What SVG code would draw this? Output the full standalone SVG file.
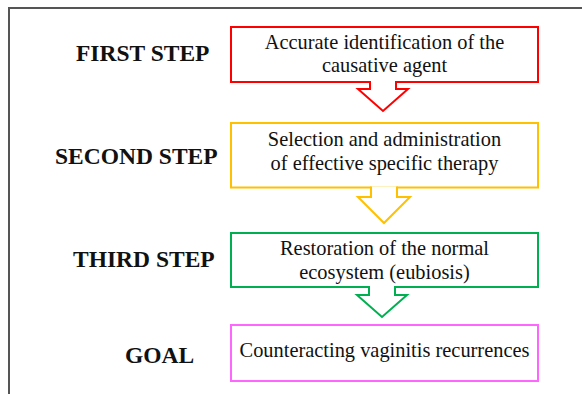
<svg xmlns="http://www.w3.org/2000/svg" width="582" height="394" viewBox="0 0 582 394">
<style>
.frame{fill:none;stroke:#555;stroke-width:2}
.box{fill:#fff;stroke-width:2}
.lbl{font-family:"Liberation Serif","Times New Roman",serif;font-weight:bold;font-size:23.5px;fill:#111}
.txt{font-family:"Liberation Serif","Times New Roman",serif;font-size:20.4px;fill:#111;text-anchor:middle}
.arr{fill:#fff;stroke-width:2;stroke-linejoin:miter}
</style>
<rect width="582" height="394" fill="#fff"/>
<path class="frame" d="M9,394 V8 H582"/>
<g id="step1">
<text class="lbl" x="76" y="61">FIRST STEP</text>
<rect class="box" x="231" y="27" width="307" height="55" stroke="#ff0000"/>
<text class="txt" x="384.5" y="49">Accurate identification of the</text>
<text class="txt" x="384.5" y="72">causative agent</text>
</g>
<g id="step2">
<text class="lbl" x="55" y="164.3">SECOND STEP</text>
<rect class="box" x="231" y="123" width="307" height="64.5" stroke="#ffc000"/>
<text class="txt" x="384.5" y="146">Selection and administration</text>
<text class="txt" x="384.5" y="170">of effective specific therapy</text>
</g>
<g id="step3">
<text class="lbl" x="73" y="266.7">THIRD STEP</text>
<rect class="box" x="231" y="233" width="307" height="54" stroke="#00b050"/>
<text class="txt" x="384.5" y="255">Restoration of the normal</text>
<text class="txt" x="384.5" y="279">ecosystem (eubiosis)</text>
</g>
<g id="goal">
<text class="lbl" x="125" y="362.7">GOAL</text>
<rect class="box" x="231" y="325" width="307" height="56" stroke="#ff66ff"/>
<text class="txt" x="384.5" y="356.7">Counteracting vaginitis recurrences</text>
</g>
<g id="connectors">
<path class="arr" stroke="#ff0000" d="M370,81 V89 H358 L383,111 L408,89 H396 V81"/>
<path class="arr" stroke="#ffc000" d="M371,186.5 V197 H358 L384,223 L410,197 H397 V186.5"/>
<path class="arr" stroke="#00b050" d="M369,286 V295 H357 L382,317 L407,295 H395 V286"/>
</g>
</svg>
